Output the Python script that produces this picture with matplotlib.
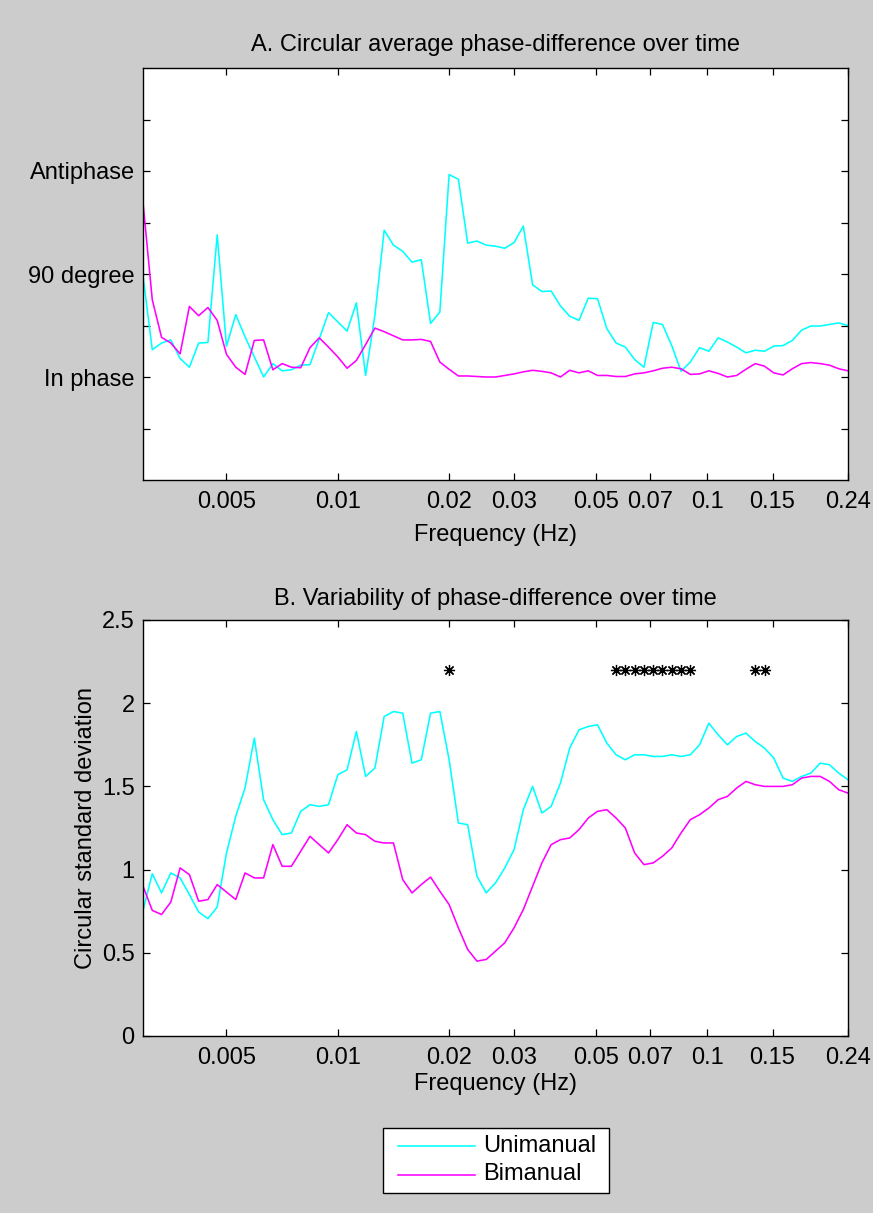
import matplotlib
matplotlib.use("Agg")
import matplotlib.pyplot as plt
from matplotlib.lines import Line2D
from matplotlib.patches import Rectangle

plt.rcParams['font.family'] = ['Liberation Sans', 'DejaVu Sans']

# ---------------- data ----------------
freq = [0.0029764, 0.0031534, 0.0033409, 0.0035395, 0.00375, 0.0039729, 0.0042093,
        0.0044595, 0.0047247, 0.0050058, 0.0053033, 0.0056188, 0.0059528, 0.0063067,
        0.0066818, 0.007079, 0.0075, 0.0079458, 0.0084185, 0.008919, 0.0094494,
        0.010012, 0.010607, 0.011238, 0.011906, 0.012613, 0.013364, 0.014158, 0.015,
        0.015892, 0.016837, 0.017838, 0.018899, 0.020023, 0.021213, 0.022475, 0.023811,
        0.025227, 0.026727, 0.028316, 0.03, 0.031783, 0.033674, 0.035676, 0.037798,
        0.040046, 0.042427, 0.04495, 0.047622, 0.050454, 0.053454, 0.056632, 0.06,
        0.063567, 0.067348, 0.071352, 0.075596, 0.080092, 0.084853, 0.0899, 0.095245,
        0.10091, 0.10691, 0.11326, 0.12, 0.12713, 0.13469, 0.1427, 0.15119, 0.16018,
        0.16971, 0.1798, 0.19049, 0.20182, 0.21382, 0.22653, 0.24]

# Panel A: circular mean phase difference (0 = in phase, 2 = 90 degree, 4 = antiphase)
uni_mean = [1.96, 0.53, 0.66, 0.72, 0.36, 0.19, 0.66, 0.67, 2.76, 0.60,
            1.21, 0.78, 0.39, 0.00, 0.26, 0.12, 0.14, 0.23, 0.24, 0.74,
            1.25, 1.07, 0.89, 1.44, 0.03, 1.20, 2.85, 2.56, 2.44, 2.23,
            2.28, 1.04, 1.26, 3.93, 3.84, 2.60, 2.64, 2.56, 2.54, 2.50,
            2.61, 2.93, 1.79, 1.66, 1.67, 1.38, 1.18, 1.10, 1.53, 1.52,
            0.94, 0.66, 0.58, 0.34, 0.19, 1.06, 1.02, 0.61, 0.11, 0.29,
            0.57, 0.50, 0.76, 0.68, 0.58, 0.47, 0.52, 0.50, 0.60, 0.61,
            0.71, 0.91, 0.99, 0.99, 1.02, 1.05, 1.00]
bi_mean = [3.39, 1.50, 0.77, 0.66, 0.45, 1.37, 1.19, 1.35, 1.10, 0.44,
           0.19, 0.05, 0.71, 0.72, 0.14, 0.26, 0.19, 0.18, 0.57, 0.76,
           0.58, 0.39, 0.17, 0.32, 0.63, 0.95, 0.88, 0.80, 0.72, 0.72,
           0.73, 0.69, 0.29, 0.15, 0.02, 0.02, 0.01, 0.00, 0.00, 0.03,
           0.06, 0.10, 0.13, 0.11, 0.08, 0.00, 0.13, 0.08, 0.12, 0.03,
           0.03, 0.01, 0.01, 0.06, 0.08, 0.12, 0.17, 0.19, 0.16, 0.05,
           0.06, 0.12, 0.07, 0.00, 0.03, 0.15, 0.26, 0.21, 0.08, 0.04,
           0.16, 0.26, 0.28, 0.26, 0.23, 0.16, 0.12]

# Panel B: circular standard deviation
uni_sd = [0.755, 0.975, 0.86, 0.98, 0.95, 0.85, 0.745, 0.705, 0.775, 1.10,
          1.32, 1.49, 1.79, 1.42, 1.30, 1.21, 1.22, 1.35, 1.39, 1.38,
          1.39, 1.57, 1.60, 1.83, 1.56, 1.61, 1.92, 1.95, 1.94, 1.64,
          1.66, 1.94, 1.95, 1.66, 1.28, 1.27, 0.96, 0.86, 0.92, 1.01,
          1.12, 1.36, 1.50, 1.34, 1.38, 1.52, 1.73, 1.84, 1.86, 1.87,
          1.76, 1.69, 1.66, 1.69, 1.69, 1.68, 1.68, 1.69, 1.68, 1.69,
          1.75, 1.88, 1.81, 1.75, 1.80, 1.82, 1.77, 1.73, 1.67, 1.55,
          1.53, 1.56, 1.58, 1.64, 1.63, 1.58, 1.54]
bi_sd = [0.90, 0.755, 0.73, 0.805, 1.01, 0.97, 0.81, 0.82, 0.91, 0.865,
         0.82, 0.98, 0.95, 0.95, 1.15, 1.02, 1.02, 1.11, 1.20, 1.15,
         1.10, 1.18, 1.27, 1.22, 1.21, 1.17, 1.16, 1.16, 0.94, 0.86,
         0.91, 0.955, 0.87, 0.79, 0.65, 0.52, 0.45, 0.46, 0.51, 0.56,
         0.65, 0.76, 0.90, 1.04, 1.15, 1.18, 1.19, 1.24, 1.31, 1.35,
         1.36, 1.31, 1.25, 1.10, 1.03, 1.04, 1.08, 1.13, 1.22, 1.30,
         1.33, 1.37, 1.42, 1.44, 1.49, 1.53, 1.51, 1.50, 1.50, 1.50,
         1.51, 1.55, 1.56, 1.56, 1.53, 1.48, 1.46]

# significant frequency bins (indices into freq) and marker height
sig_idx = [33, 51, 52, 53, 54, 55, 56, 57, 58, 59, 66, 67]
sig_y = 2.2

xtick_vals = [0.005, 0.01, 0.02, 0.03, 0.05, 0.07, 0.1, 0.15, 0.24]
xtick_labels = ['0.005', '0.01', '0.02', '0.03', '0.05', '0.07', '0.1', '0.15', '0.24']
a_ytick_vals = [-1, 0, 1, 2, 3, 4, 5]
a_ytick_labels = ['', 'In phase', '', '90 degree', '', 'Antiphase', '']
b_ytick_vals = [0, 0.5, 1, 1.5, 2, 2.5]
b_ytick_labels = ['0', '0.5', '1', '1.5', '2', '2.5']
series_names = ['Unimanual', 'Bimanual']

CYAN = '#00ffff'
MAGENTA = '#ff00ff'
FS = 17

# ---------------- figure ----------------
W, H = 873, 1213
fig = plt.figure(figsize=(W / 100, H / 100), dpi=100, facecolor='#cccccc')


def box(l, t, r, b):
    return [l / W, 1 - b / H, (r - l) / W, (b - t) / H]


axA = fig.add_axes(box(143, 68, 848, 480))
axB = fig.add_axes(box(143, 620, 848, 1036))

for ax in (axA, axB):
    ax.set_facecolor('white')
    ax.set_xscale('log')
    ax.set_xlim(freq[0], freq[-1])
    ax.minorticks_off()
    ax.set_xticks(xtick_vals)
    ax.set_xticklabels(xtick_labels)
    ax.tick_params(direction='in', length=5, width=0.9, top=True, right=True,
                   labelsize=FS, colors='black')
    ax.tick_params(axis='x', pad=8)
    ax.tick_params(axis='y', pad=6)
    for s in ax.spines.values():
        s.set_linewidth(1.0)
        s.set_color('black')

# Panel A
axA.plot(freq, uni_mean, color=CYAN, lw=1.15)
axA.plot(freq, bi_mean, color=MAGENTA, lw=1.15)
axA.set_ylim(-2, 6)
axA.set_yticks(a_ytick_vals)
axA.set_yticklabels(a_ytick_labels)
axA.text(0.5, 1.0558, 'A. Circular average phase-difference over time',
         transform=axA.transAxes, ha='center', va='center', fontsize=FS)
axA.set_xlabel('Frequency (Hz)', fontsize=FS)
axA.xaxis.label.set_va('center')
axA.xaxis.set_label_coords(0.5, -0.1335)

# Panel B
axB.plot(freq, uni_sd, color=CYAN, lw=1.15)
axB.plot(freq, bi_sd, color=MAGENTA, lw=1.15)
axB.plot([freq[i] for i in sig_idx], [sig_y] * len(sig_idx), linestyle='none',
         marker=(8, 2, 0), markersize=8, markeredgewidth=0.9, color='black')
axB.set_ylim(0, 2.5)
axB.set_yticks(b_ytick_vals)
axB.set_yticklabels(b_ytick_labels)
axB.text(0.5, 1.0505, 'B. Variability of phase-difference over time',
         transform=axB.transAxes, ha='center', va='center', fontsize=FS)
axB.set_xlabel('Frequency (Hz)', fontsize=FS)
axB.xaxis.label.set_va('center')
axB.xaxis.set_label_coords(0.5, -0.115)
axB.set_ylabel('Circular standard deviation', fontsize=FS)
axB.yaxis.label.set_va('center')
axB.yaxis.set_label_coords(-0.081, 0.5)

# Legend (drawn in figure pixel coordinates)
fig.patches.append(Rectangle((383 / W, 1 - 1193 / H), (609 - 383) / W, (1193 - 1128) / H,
                             transform=fig.transFigure, facecolor='white',
                             edgecolor='black', linewidth=1.0, zorder=5))
for name, col, yc in zip(series_names, [CYAN, MAGENTA], [1146, 1174.5]):
    fig.lines.append(Line2D([398 / W, 475 / W], [1 - yc / H, 1 - yc / H],
                            transform=fig.transFigure, color=col, lw=1.15, zorder=6))
    fig.text(483 / W, 1 - yc / H, name, ha='left', va='center', fontsize=FS, zorder=6)

fig.savefig('out.png', dpi=100, facecolor=fig.get_facecolor())
